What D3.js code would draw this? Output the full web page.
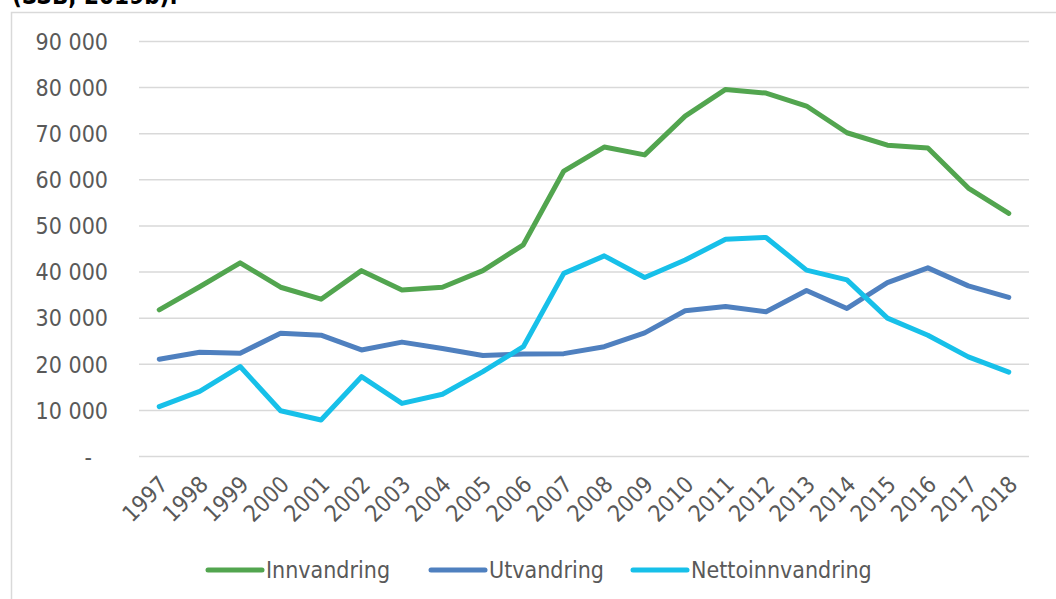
<!DOCTYPE html>
<html>
<head>
<meta charset="utf-8">
<script src="https://cdn.jsdelivr.net/npm/d3@7"></script>
<style>
  body { margin: 0; background: #fff; }
  svg { display: block; }
  text { font-family: "DejaVu Sans Condensed", "DejaVu Sans", sans-serif; }
</style>
</head>
<body>
<div id="container"></div>
<script>
const years = ["1997", "1998", "1999", "2000", "2001", "2002", "2003", "2004", "2005", "2006", "2007",
  "2008", "2009", "2010", "2011", "2012", "2013", "2014", "2015", "2016", "2017", "2018"];

const innvandring = [31700, 36700, 41900, 36600, 34000, 40200, 36000, 36600, 40200, 45800, 61800,
  67000, 65300, 73700, 79500, 78700, 75900, 70100, 67400, 66800, 58100, 52600];

const utvandring = [21000, 22500, 22300, 26600, 26200, 23000, 24700, 23300, 21800, 22100, 22200,
  23700, 26700, 31500, 32400, 31300, 35900, 32000, 37600, 40800, 36900, 34400];

const nettoinnvandring = [10700, 14000, 19400, 9800, 7800, 17200, 11400, 13400, 18300, 23700, 39600,
  43400, 38700, 42500, 47000, 47400, 40300, 38200, 29900, 26200, 21500, 18200];

const yTicks = [0, 10000, 20000, 30000, 40000, 50000, 60000, 70000, 80000, 90000];

const seriesNames = ["Innvandring", "Utvandring", "Nettoinnvandring"];
const seriesColors = ["#52a54f", "#4f80bf", "#17c0e9"];

const width = 1056;
const height = 599;
const marginTop = 41;
const marginLeft = 139;
const plotRight = 1029;
const plotBottom = 456;
const textColor = "#595959";

const series = seriesNames.map((name, i) => ({
  name,
  color: seriesColors[i],
  values: [innvandring, utvandring, nettoinnvandring][i]
}));

const x = d3.scaleBand()
  .domain(years)
  .range([marginLeft, plotRight]);

const y = d3.scaleLinear()
  .domain([0, 90000])
  .range([plotBottom, marginTop]);

const locale = d3.formatLocale({ thousands: " ", grouping: [3], decimal: ",", currency: ["", ""] });
const fmt = locale.format(",d");

const svg = d3.create("svg")
  .attr("width", width)
  .attr("height", height);

svg.append("rect")
  .attr("width", width)
  .attr("height", height)
  .attr("fill", "#fff");

// chart frame (continues past the right/bottom edges)
svg.append("rect")
  .attr("x", 11.5)
  .attr("y", 12.5)
  .attr("width", 1100)
  .attr("height", 700)
  .attr("fill", "none")
  .attr("stroke", "#d9d9d9")
  .attr("stroke-width", 1.5);

// cut-off caption line above the chart
svg.append("text")
  .attr("x", 12)
  .attr("y", 4)
  .attr("font-size", "24px")
  .attr("font-weight", "bold")
  .attr("fill", "#000")
  .text("(SSB, 2019b).");

// y axis + gridlines
const yAxis = svg.append("g")
  .attr("transform", `translate(${marginLeft},0)`)
  .call(d3.axisLeft(y)
    .tickValues(yTicks)
    .tickSize(-(plotRight - marginLeft))
    .tickPadding(31)
    .tickFormat(d => d === 0 ? "-" : fmt(d)));

yAxis.select(".domain").remove();
yAxis.selectAll(".tick line")
  .attr("stroke", "#d9d9d9")
  .attr("stroke-width", 1.5);
yAxis.selectAll(".tick text")
  .attr("fill", textColor)
  .attr("font-size", "23px")
  .attr("font-family", null)
  .attr("dy", "0.36em");
yAxis.selectAll(".tick text")
  .filter(d => d === 0)
  .attr("dx", -16);

// x axis labels
const xAxis = svg.append("g")
  .attr("transform", `translate(0,${plotBottom})`)
  .call(d3.axisBottom(x).tickSize(0).tickPadding(0));

xAxis.select(".domain").remove();
xAxis.selectAll(".tick text")
  .attr("fill", textColor)
  .attr("font-size", "23px")
  .attr("font-family", null)
  .attr("text-anchor", "end")
  .attr("dy", null)
  .attr("y", 0)
  .attr("transform", "translate(10,30) rotate(-45)");

// lines
const line = d3.line()
  .x((d, i) => x(years[i]) + x.bandwidth() / 2)
  .y(d => y(d));

svg.append("g")
  .selectAll("path")
  .data(series)
  .join("path")
  .attr("fill", "none")
  .attr("stroke", d => d.color)
  .attr("stroke-width", 5)
  .attr("stroke-linejoin", "round")
  .attr("stroke-linecap", "round")
  .attr("d", d => line(d.values));

// legend
const legendX = [208, 431, 633];
const legendY = 570;

const legend = svg.append("g")
  .selectAll("g")
  .data(series)
  .join("g")
  .attr("transform", (d, i) => `translate(${legendX[i]},${legendY})`);

legend.append("line")
  .attr("x1", 0)
  .attr("x2", 54)
  .attr("stroke", d => d.color)
  .attr("stroke-width", 5)
  .attr("stroke-linecap", "round");

legend.append("text")
  .attr("x", 58)
  .attr("dy", "0.36em")
  .attr("font-size", "23px")
  .attr("fill", textColor)
  .text(d => d.name);

d3.select("#container").append(() => svg.node());
</script>
</body>
</html>
